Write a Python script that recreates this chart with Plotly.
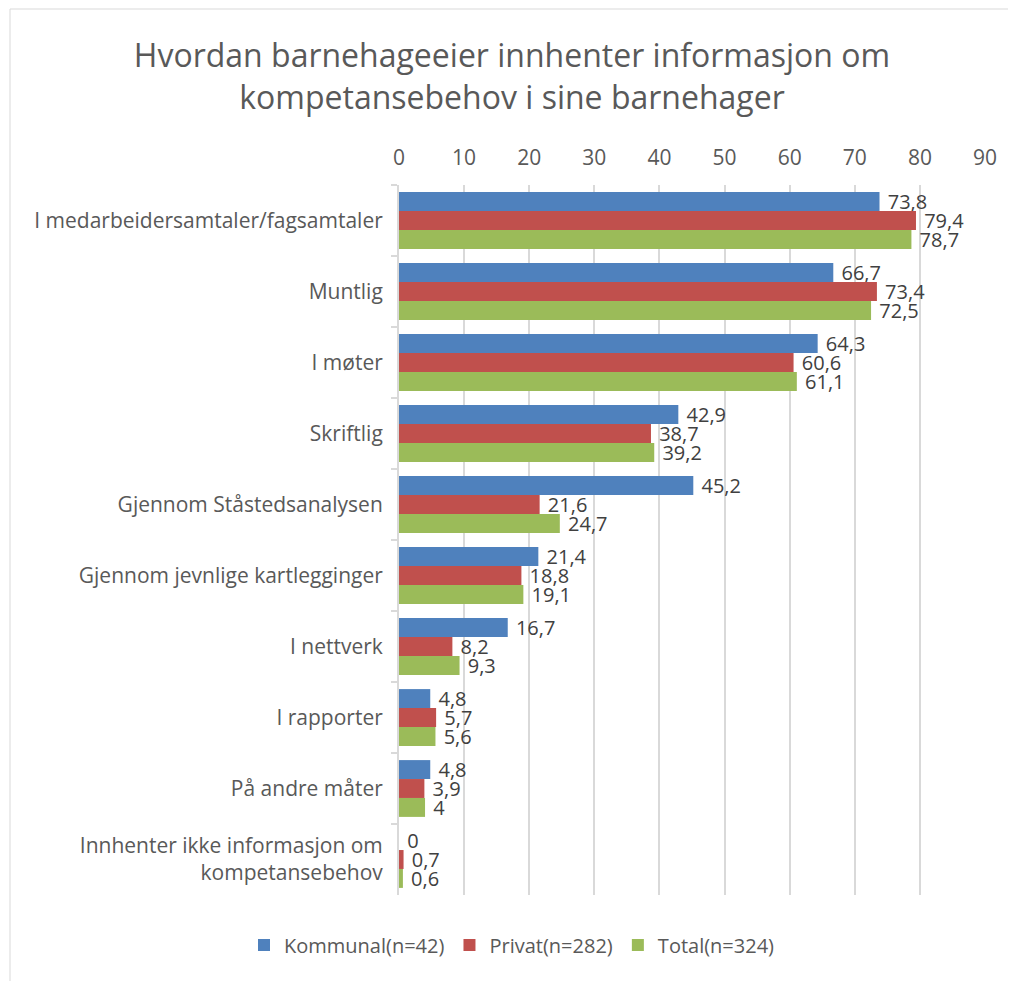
import plotly.graph_objects as go

# ---------------------------------------------------------------------------
# DATA
# ---------------------------------------------------------------------------
CATEGORIES = [
    "I medarbeidersamtaler/fagsamtaler",
    "Muntlig",
    "I møter",
    "Skriftlig",
    "Gjennom Ståstedsanalysen",
    "Gjennom jevnlige kartlegginger",
    "I nettverk",
    "I rapporter",
    "På andre måter",
    "Innhenter ikke informasjon om<br>kompetansebehov",
]
KOMMUNAL = [73.8, 66.7, 64.3, 42.9, 45.2, 21.4, 16.7, 4.8, 4.8, 0]
PRIVAT = [79.4, 73.4, 60.6, 38.7, 21.6, 18.8, 8.2, 5.7, 3.9, 0.7]
TOTAL = [78.7, 72.5, 61.1, 39.2, 24.7, 19.1, 9.3, 5.6, 4, 0.6]
X_TICKS = [0, 10, 20, 30, 40, 50, 60, 70, 80, 90]

SERIES = [
    ("Kommunal(n=42)", KOMMUNAL, "#4f81bd"),
    ("Privat(n=282)", PRIVAT, "#c0504d"),
    ("Total(n=324)", TOTAL, "#9bbb59"),
]

FONT = "Open Sans, Noto Sans, sans-serif"
TEXT_COLOR = "#595959"
GRID_COLOR = "#d9d9d9"

# page body has an 8px margin, so the figure is 8px smaller than the window
W, H = 1008, 973
ML, MR, MT, MB = 391, 31, 177, 86
PLOT_W = W - ML - MR
PLOT_H = H - MT - MB


def fmt(v):
    """Norwegian decimal comma, integers without decimals."""
    if float(v).is_integer():
        return str(int(v))
    return f"{v}".replace(".", ",")


fig = go.Figure()
for name, values, color in SERIES:
    fig.add_trace(
        go.Bar(
            y=CATEGORIES,
            x=values,
            name=name,
            orientation="h",
            marker=dict(color=color, line=dict(width=0)),
            text=[" " + fmt(v) for v in values],
            textposition="outside",
            textfont=dict(size=20, color="#404040", family=FONT),
            constraintext="none",
            cliponaxis=False,
        )
    )

# light frame around the chart area
fig.add_shape(
    type="rect",
    xref="paper",
    yref="paper",
    x0=(2 - ML) / PLOT_W,
    x1=1.2,
    y0=-0.3,
    y1=(H - MB - 1) / PLOT_H,
    line=dict(color=GRID_COLOR, width=1),
    layer="below",
)

fig.update_layout(
    title=dict(
        text="Hvordan barnehageeier innhenter informasjon om<br>kompetansebehov i sine barnehager",
        x=0.5,
        xref="container",
        xanchor="center",
        y=1 - 59 / H,
        yref="container",
        yanchor="top",
        font=dict(size=32, color=TEXT_COLOR, family=FONT),
    ),
    barmode="group",
    bargap=0.2,
    bargroupgap=0,
    width=W,
    height=H,
    margin=dict(l=ML, r=MR, t=MT, b=MB, autoexpand=False),
    paper_bgcolor="white",
    plot_bgcolor="white",
    font=dict(family=FONT, color=TEXT_COLOR, size=20),
    xaxis=dict(
        side="top",
        range=[0, 90],
        tickvals=X_TICKS,
        showgrid=True,
        gridcolor=GRID_COLOR,
        gridwidth=2,
        zeroline=False,
        showline=False,
        ticks="",
        automargin=False,
        ticklabelstandoff=15,
        tickfont=dict(size=21, color=TEXT_COLOR),
    ),
    yaxis=dict(
        autorange="reversed",
        showline=True,
        linecolor=GRID_COLOR,
        linewidth=2,
        ticks="outside",
        tickson="boundaries",
        ticklen=6,
        tickcolor=GRID_COLOR,
        tickwidth=2,
        automargin=False,
        tickfont=dict(size=21, color=TEXT_COLOR),
        ticklabelstandoff=10,
    ),
    legend=dict(
        orientation="h",
        x=0.5,
        xref="container",
        xanchor="center",
        y=1 - 937 / H,
        yref="container",
        yanchor="middle",
        font=dict(size=20, color=TEXT_COLOR),
        itemwidth=30,
        traceorder="normal",
    ),
    showlegend=True,
)

fig.write_html("out.html")
